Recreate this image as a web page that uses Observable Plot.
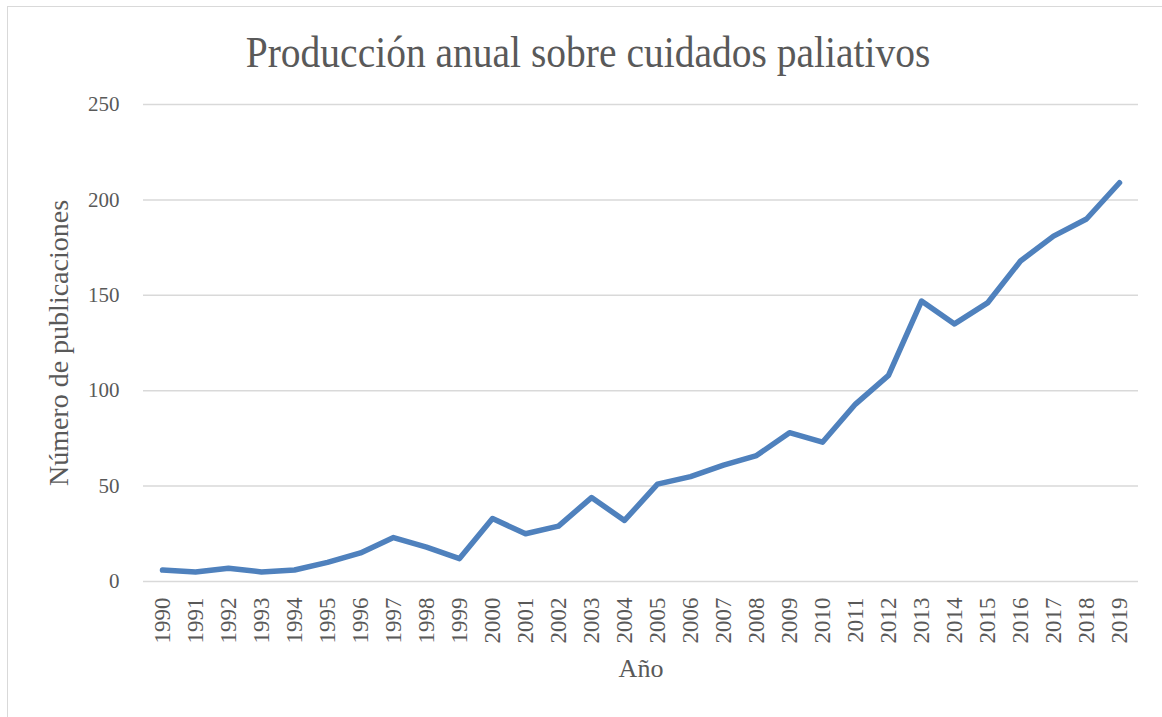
<!DOCTYPE html>
<html>
<head>
<meta charset="utf-8">
<script src="https://cdn.jsdelivr.net/npm/d3@7"></script>
<script src="https://cdn.jsdelivr.net/npm/@observablehq/plot@0.6"></script>
<style>
  html, body { margin: 0; padding: 0; background: #fff; }
  body { width: 1162px; height: 717px; overflow: hidden; position: relative; font-family: "Liberation Serif", serif; }
  #frame { position: absolute; left: 7px; top: 6px; width: 1300px; height: 900px; border: 1.5px solid #d9d9d9; box-sizing: border-box; }
  #title { position: relative; height: 90px; box-sizing: border-box; padding-top: 31px; text-align: center; }
  #title span { display: inline-block; margin-left: 14px; font-size: 39.5px; line-height: 44px; color: #595959;
                transform: scaleY(1.12); transform-origin: 50% 70%; }
  #chart { position: relative; }
</style>
</head>
<body>
<div id="frame"></div>
<div id="title"><span>Producción anual sobre cuidados paliativos</span></div>
<div id="chart"></div>
<script>
const years = ["1990","1991","1992","1993","1994","1995","1996","1997","1998","1999",
               "2000","2001","2002","2003","2004","2005","2006","2007","2008","2009",
               "2010","2011","2012","2013","2014","2015","2016","2017","2018","2019"];
const publications = [6,5,7,5,6,10,15,23,18,12,33,25,29,44,32,51,55,61,66,78,73,93,108,147,135,146,168,181,190,209];
const yTicks = [0,50,100,150,200,250];
const yLabel = "Número de publicaciones";
const xLabel = "Año";

const data = years.map((y, i) => ({year: y, value: publications[i]}));
const textColor = "#595959";

const chart = Plot.plot({
  width: 1162,
  height: 627,
  marginLeft: 143,
  marginRight: 24,
  marginTop: 14,
  marginBottom: 136,
  style: {fontFamily: "'Liberation Serif', serif", color: textColor, background: "transparent", overflow: "visible"},
  x: {type: "point", domain: years, padding: 0.5},
  y: {domain: [0, 250]},
  marks: [
    Plot.gridY(yTicks, {stroke: "#d9d9d9", strokeOpacity: 1, strokeWidth: 1.5}),
    Plot.axisY(yTicks, {tickSize: 0, tickPadding: 24, fontSize: 21, label: null, fill: textColor}),
    Plot.axisX(years, {tickSize: 0, tickPadding: 16, tickRotate: -90, fontSize: 23, label: null, fill: textColor}),
    Plot.lineY(data, {x: "year", y: "value", stroke: "#4f81bd", strokeWidth: 5.5, strokeLinecap: "round", strokeLinejoin: "round"}),
    Plot.text([yLabel], {frameAnchor: "left", dx: -84, rotate: -90, textAnchor: "middle", fontSize: 28, fill: textColor}),
    Plot.text([xLabel], {frameAnchor: "bottom", dy: 95, fontSize: 26, fill: textColor})
  ]
});
document.getElementById("chart").appendChild(chart);
</script>
</body>
</html>
